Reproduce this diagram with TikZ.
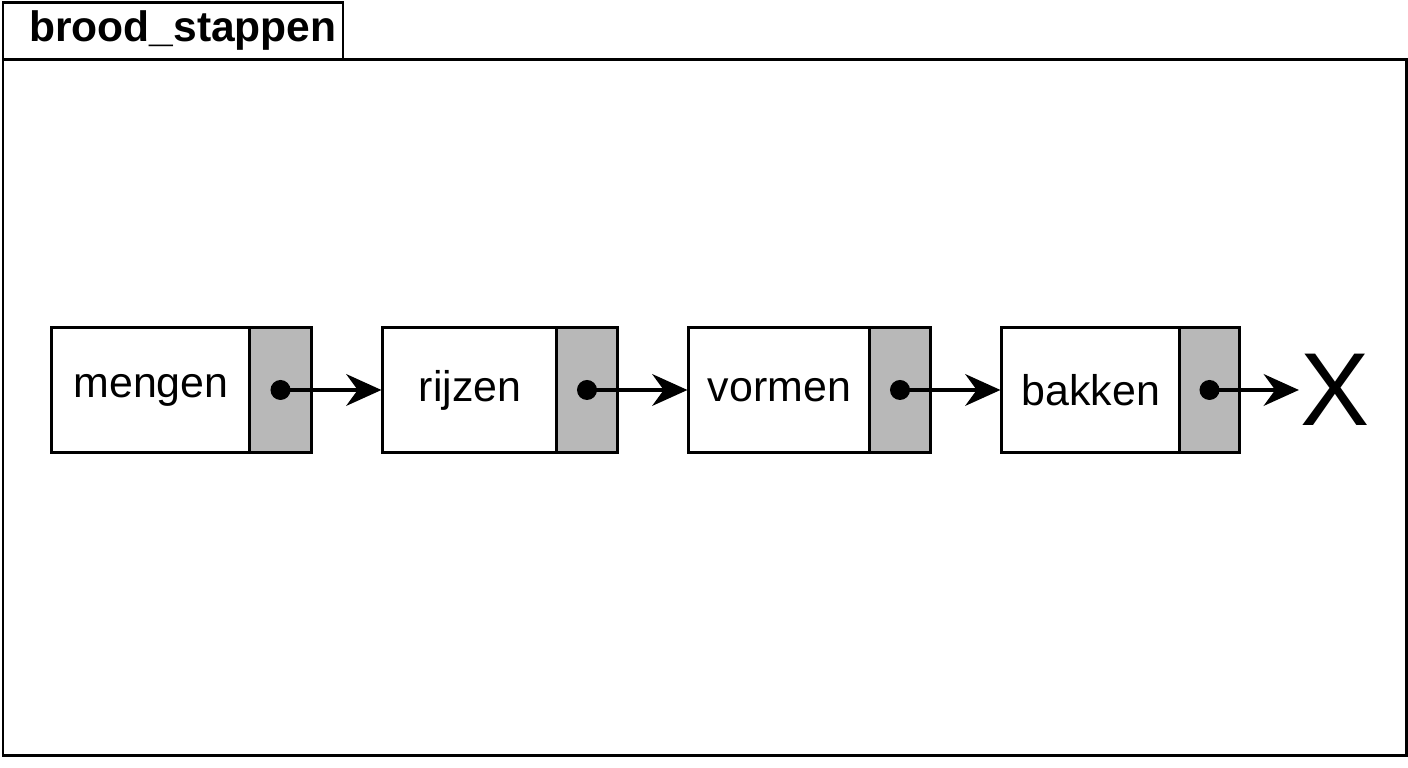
\documentclass[tikz,border=0pt]{standalone}
\usepackage{fontspec}
\setmainfont{Liberation Sans}
\usetikzlibrary{arrows.meta}

\begin{document}
\begin{tikzpicture}[x=0.01cm,y=-0.01cm,line width=0.85pt,
  item/.style={draw,minimum height=1.24cm,inner sep=0pt,font=\fontsize{12.2}{14}\selectfont},
  ptr/.style={draw,fill=black!28,minimum height=1.24cm,inner sep=0pt},
  link/.style={-{Stealth[length=10pt,width=9pt]},line width=1.1pt}]
\useasboundingbox (0,0) rectangle (1408,768);
\draw (3,60) rectangle (1406,756);
\draw (3,3) rectangle (343,60);
\node[anchor=west,font=\bfseries\fontsize{12.1}{14}\selectfont] (title) at (16,31) {brood\_stappen};
% list cells
\node[item,minimum width=1.98cm] (m) at (151,390) {mengen};
\node[ptr,minimum width=0.61cm] (mp) at (280.5,390) {};
\node[item,minimum width=1.74cm] (r) at (470,390) {rijzen};
\node[ptr,minimum width=0.60cm] (rp) at (587,390) {};
\node[item,minimum width=1.81cm] (v) at (779.5,390) {vormen};
\node[ptr,minimum width=0.60cm] (vp) at (900,390) {};
\node[item,minimum width=1.78cm] (b) at (1091,390) {bakken};
\node[ptr,minimum width=0.59cm] (bp) at (1209.5,390) {};
\node[font=\fontsize{29.5}{30}\selectfont,inner sep=0pt] (x) at (1335,390) {X};
% pointers
\foreach \s/\t in {mp/r,rp/v,vp/b,bp/x}{
  \fill (\s.center) circle (0.1cm);
  \draw[link] (\s.center) -- (\t.west);
}
\end{tikzpicture}
\end{document}
